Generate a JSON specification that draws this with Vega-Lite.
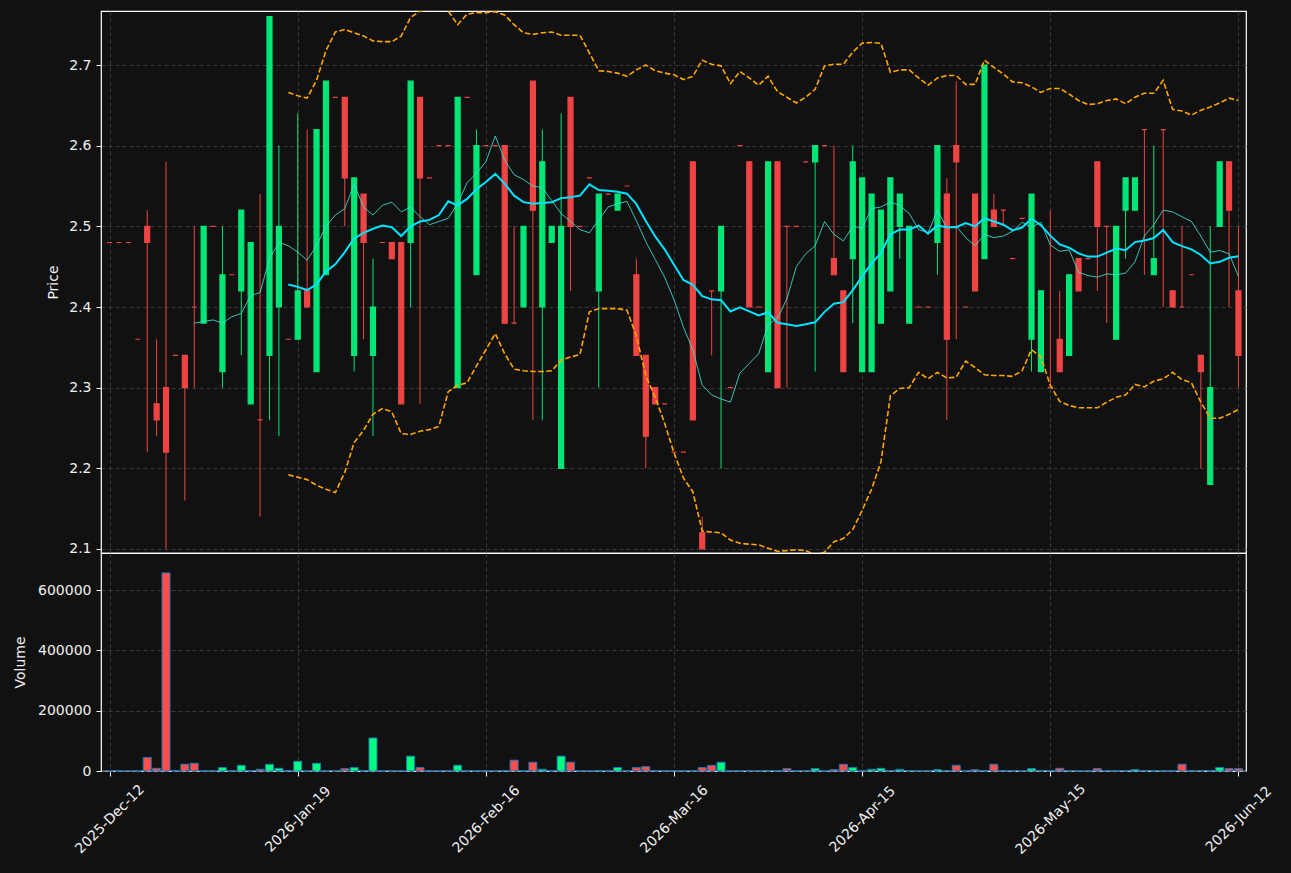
{
  "$schema": "https://vega.github.io/schema/vega-lite/v6.json",
  "background": "#111111",
  "padding": {"left": 12, "top": 10, "right": 17, "bottom": 21},
  "spacing": 0,
  "bounds": "flush",
  "config": {
    "font": "DejaVu Sans",
    "view": {"stroke": "#ffffff", "strokeWidth": 1.2, "fill": "#111111"},
    "axis": {
      "labelColor": "#f0f0f0", "titleColor": "#f0f0f0",
      "labelFont": "DejaVu Sans", "titleFont": "DejaVu Sans",
      "labelFontSize": 14, "titleFontSize": 14, "titleFontWeight": "normal",
      "tickColor": "#ffffff", "tickSize": 5, "labelPadding": 5, "domain": false,
      "gridColor": "#444444", "gridDash": [4, 3], "gridWidth": 0.8
    }
  },
  "datasets": {
    "k": [
      {"i":0,"o":2.48,"h":2.48,"l":2.48,"c":2.48,"v":0},
      {"i":1,"o":2.48,"h":2.48,"l":2.48,"c":2.48,"v":0},
      {"i":2,"o":2.48,"h":2.48,"l":2.48,"c":2.48,"v":0},
      {"i":3,"o":2.36,"h":2.36,"l":2.36,"c":2.36,"v":0},
      {"i":4,"o":2.5,"h":2.52,"l":2.22,"c":2.48,"v":44700},
      {"i":5,"o":2.28,"h":2.36,"l":2.24,"c":2.26,"v":8900},
      {"i":6,"o":2.3,"h":2.58,"l":2.1,"c":2.22,"v":657000},
      {"i":7,"o":2.34,"h":2.34,"l":2.34,"c":2.34,"v":0},
      {"i":8,"o":2.34,"h":2.34,"l":2.16,"c":2.3,"v":22300},
      {"i":9,"o":2.4,"h":2.5,"l":2.3,"c":2.4,"v":25700,"m10":2.380},
      {"i":10,"o":2.38,"h":2.5,"l":2.38,"c":2.5,"v":0,"m10":2.382},
      {"i":11,"o":2.5,"h":2.5,"l":2.5,"c":2.5,"v":0,"m10":2.384},
      {"i":12,"o":2.32,"h":2.5,"l":2.3,"c":2.44,"v":11200,"m10":2.380},
      {"i":13,"o":2.44,"h":2.44,"l":2.44,"c":2.44,"v":0,"m10":2.388},
      {"i":14,"o":2.42,"h":2.52,"l":2.34,"c":2.52,"v":19000,"m10":2.392},
      {"i":15,"o":2.28,"h":2.48,"l":2.28,"c":2.48,"v":1500,"m10":2.414},
      {"i":16,"o":2.26,"h":2.54,"l":2.14,"c":2.26,"v":5600,"m10":2.418},
      {"i":17,"o":2.34,"h":2.76,"l":2.26,"c":2.76,"v":22300,"m10":2.460},
      {"i":18,"o":2.4,"h":2.6,"l":2.24,"c":2.5,"v":8900,"m10":2.480},
      {"i":19,"o":2.36,"h":2.36,"l":2.36,"c":2.36,"v":1000,"m10":2.476,"m20":2.428,"up":2.666,"lo":2.192},
      {"i":20,"o":2.36,"h":2.64,"l":2.36,"c":2.42,"v":32400,"m10":2.468,"m20":2.425,"up":2.662,"lo":2.189},
      {"i":21,"o":2.42,"h":2.62,"l":2.4,"c":2.4,"v":0,"m10":2.458,"m20":2.421,"up":2.659,"lo":2.186},
      {"i":22,"o":2.32,"h":2.62,"l":2.32,"c":2.62,"v":25700,"m10":2.476,"m20":2.428,"up":2.681,"lo":2.179},
      {"i":23,"o":2.44,"h":2.68,"l":2.44,"c":2.68,"v":0,"m10":2.500,"m20":2.444,"up":2.718,"lo":2.174},
      {"i":24,"o":2.66,"h":2.66,"l":2.66,"c":2.66,"v":0,"m10":2.514,"m20":2.453,"up":2.741,"lo":2.170},
      {"i":25,"o":2.66,"h":2.66,"l":2.5,"c":2.56,"v":7800,"m10":2.522,"m20":2.468,"up":2.744,"lo":2.195},
      {"i":26,"o":2.34,"h":2.56,"l":2.32,"c":2.56,"v":11200,"m10":2.552,"m20":2.485,"up":2.740,"lo":2.232},
      {"i":27,"o":2.54,"h":2.54,"l":2.36,"c":2.48,"v":1500,"m10":2.524,"m20":2.492,"up":2.736,"lo":2.247},
      {"i":28,"o":2.34,"h":2.46,"l":2.24,"c":2.4,"v":109500,"m10":2.514,"m20":2.497,"up":2.730,"lo":2.267},
      {"i":29,"o":2.48,"h":2.48,"l":2.48,"c":2.48,"v":0,"m10":2.526,"m20":2.501,"up":2.729,"lo":2.274},
      {"i":30,"o":2.48,"h":2.48,"l":2.46,"c":2.46,"v":0,"m10":2.530,"m20":2.499,"up":2.729,"lo":2.270},
      {"i":31,"o":2.48,"h":2.48,"l":2.28,"c":2.28,"v":0,"m10":2.518,"m20":2.488,"up":2.736,"lo":2.243},
      {"i":32,"o":2.48,"h":2.68,"l":2.4,"c":2.68,"v":49200,"m10":2.524,"m20":2.500,"up":2.759,"lo":2.242},
      {"i":33,"o":2.66,"h":2.66,"l":2.28,"c":2.56,"v":11200,"m10":2.512,"m20":2.506,"up":2.767,"lo":2.246},
      {"i":34,"o":2.56,"h":2.56,"l":2.56,"c":2.56,"v":0,"m10":2.502,"m20":2.508,"up":2.768,"lo":2.248},
      {"i":35,"o":2.6,"h":2.6,"l":2.6,"c":2.6,"v":0,"m10":2.506,"m20":2.514,"up":2.772,"lo":2.252},
      {"i":36,"o":2.6,"h":2.6,"l":2.6,"c":2.6,"v":0,"m10":2.510,"m20":2.531,"up":2.767,"lo":2.295},
      {"i":37,"o":2.3,"h":2.66,"l":2.3,"c":2.66,"v":19000,"m10":2.528,"m20":2.526,"up":2.750,"lo":2.303},
      {"i":38,"o":2.66,"h":2.66,"l":2.66,"c":2.66,"v":0,"m10":2.554,"m20":2.534,"up":2.763,"lo":2.306},
      {"i":39,"o":2.44,"h":2.62,"l":2.44,"c":2.6,"v":0,"m10":2.566,"m20":2.546,"up":2.765,"lo":2.327},
      {"i":40,"o":2.6,"h":2.6,"l":2.6,"c":2.6,"v":0,"m10":2.580,"m20":2.555,"up":2.765,"lo":2.347},
      {"i":41,"o":2.6,"h":2.6,"l":2.6,"c":2.6,"v":0,"m10":2.612,"m20":2.565,"up":2.766,"lo":2.367},
      {"i":42,"o":2.6,"h":2.6,"l":2.38,"c":2.38,"v":1500,"m10":2.582,"m20":2.553,"up":2.762,"lo":2.342},
      {"i":43,"o":2.38,"h":2.5,"l":2.38,"c":2.38,"v":35800,"m10":2.564,"m20":2.538,"up":2.750,"lo":2.323},
      {"i":44,"o":2.4,"h":2.5,"l":2.4,"c":2.5,"v":0,"m10":2.558,"m20":2.530,"up":2.740,"lo":2.321},
      {"i":45,"o":2.68,"h":2.68,"l":2.26,"c":2.52,"v":29000,"m10":2.550,"m20":2.528,"up":2.738,"lo":2.320},
      {"i":46,"o":2.4,"h":2.62,"l":2.26,"c":2.58,"v":5600,"m10":2.548,"m20":2.529,"up":2.740,"lo":2.320},
      {"i":47,"o":2.48,"h":2.5,"l":2.48,"c":2.5,"v":1500,"m10":2.532,"m20":2.530,"up":2.741,"lo":2.321},
      {"i":48,"o":2.2,"h":2.64,"l":2.2,"c":2.5,"v":49200,"m10":2.516,"m20":2.535,"up":2.737,"lo":2.334},
      {"i":49,"o":2.66,"h":2.66,"l":2.42,"c":2.5,"v":29000,"m10":2.506,"m20":2.536,"up":2.737,"lo":2.338},
      {"i":50,"o":2.5,"h":2.5,"l":2.5,"c":2.5,"v":0,"m10":2.496,"m20":2.538,"up":2.737,"lo":2.341},
      {"i":51,"o":2.56,"h":2.56,"l":2.56,"c":2.56,"v":0,"m10":2.492,"m20":2.552,"up":2.715,"lo":2.394},
      {"i":52,"o":2.42,"h":2.54,"l":2.3,"c":2.54,"v":1000,"m10":2.508,"m20":2.545,"up":2.693,"lo":2.398},
      {"i":53,"o":2.54,"h":2.54,"l":2.54,"c":2.54,"v":0,"m10":2.524,"m20":2.544,"up":2.692,"lo":2.398},
      {"i":54,"o":2.52,"h":2.54,"l":2.52,"c":2.54,"v":11200,"m10":2.528,"m20":2.543,"up":2.690,"lo":2.398},
      {"i":55,"o":2.55,"h":2.55,"l":2.55,"c":2.55,"v":0,"m10":2.531,"m20":2.5405,"up":2.686,"lo":2.396},
      {"i":56,"o":2.44,"h":2.46,"l":2.34,"c":2.34,"v":11200,"m10":2.507,"m20":2.5275,"up":2.694,"lo":2.364},
      {"i":57,"o":2.34,"h":2.34,"l":2.2,"c":2.24,"v":14500,"m10":2.481,"m20":2.5065,"up":2.700,"lo":2.315},
      {"i":58,"o":2.3,"h":2.3,"l":2.28,"c":2.28,"v":1000,"m10":2.459,"m20":2.4875,"up":2.693,"lo":2.288},
      {"i":59,"o":2.28,"h":2.28,"l":2.28,"c":2.28,"v":0,"m10":2.437,"m20":2.4715,"up":2.690,"lo":2.256},
      {"i":60,"o":2.22,"h":2.22,"l":2.22,"c":2.22,"v":0,"m10":2.409,"m20":2.4525,"up":2.688,"lo":2.219},
      {"i":61,"o":2.22,"h":2.22,"l":2.22,"c":2.22,"v":0,"m10":2.375,"m20":2.4335,"up":2.682,"lo":2.188},
      {"i":62,"o":2.58,"h":2.58,"l":2.26,"c":2.26,"v":0,"m10":2.347,"m20":2.4275,"up":2.686,"lo":2.171},
      {"i":63,"o":2.12,"h":2.14,"l":2.1,"c":2.1,"v":11200,"m10":2.303,"m20":2.4135,"up":2.706,"lo":2.122},
      {"i":64,"o":2.42,"h":2.42,"l":2.34,"c":2.42,"v":19000,"m10":2.291,"m20":2.4095,"up":2.701,"lo":2.121},
      {"i":65,"o":2.42,"h":2.5,"l":2.2,"c":2.5,"v":29000,"m10":2.286,"m20":2.4085,"up":2.699,"lo":2.120},
      {"i":66,"o":2.3,"h":2.3,"l":2.3,"c":2.3,"v":0,"m10":2.282,"m20":2.3945,"up":2.677,"lo":2.111},
      {"i":67,"o":2.6,"h":2.6,"l":2.6,"c":2.6,"v":0,"m10":2.318,"m20":2.3995,"up":2.692,"lo":2.107},
      {"i":68,"o":2.58,"h":2.58,"l":2.4,"c":2.4,"v":0,"m10":2.330,"m20":2.3945,"up":2.684,"lo":2.106},
      {"i":69,"o":2.4,"h":2.4,"l":2.4,"c":2.4,"v":0,"m10":2.342,"m20":2.3895,"up":2.675,"lo":2.105},
      {"i":70,"o":2.32,"h":2.58,"l":2.32,"c":2.58,"v":1500,"m10":2.378,"m20":2.3935,"up":2.686,"lo":2.101},
      {"i":71,"o":2.58,"h":2.58,"l":2.3,"c":2.3,"v":0,"m10":2.386,"m20":2.3805,"up":2.667,"lo":2.097},
      {"i":72,"o":2.5,"h":2.5,"l":2.3,"c":2.5,"v":7800,"m10":2.410,"m20":2.3785,"up":2.660,"lo":2.098},
      {"i":73,"o":2.5,"h":2.5,"l":2.5,"c":2.5,"v":0,"m10":2.450,"m20":2.3765,"up":2.653,"lo":2.099},
      {"i":74,"o":2.58,"h":2.58,"l":2.58,"c":2.58,"v":0,"m10":2.466,"m20":2.3785,"up":2.660,"lo":2.098},
      {"i":75,"o":2.58,"h":2.6,"l":2.32,"c":2.6,"v":7800,"m10":2.476,"m20":2.381,"up":2.670,"lo":2.093},
      {"i":76,"o":2.6,"h":2.6,"l":2.6,"c":2.6,"v":0,"m10":2.506,"m20":2.394,"up":2.699,"lo":2.096},
      {"i":77,"o":2.46,"h":2.6,"l":2.44,"c":2.44,"v":4500,"m10":2.490,"m20":2.404,"up":2.701,"lo":2.109},
      {"i":78,"o":2.42,"h":2.42,"l":2.32,"c":2.32,"v":22300,"m10":2.482,"m20":2.406,"up":2.701,"lo":2.113},
      {"i":79,"o":2.46,"h":2.6,"l":2.38,"c":2.58,"v":11200,"m10":2.500,"m20":2.421,"up":2.716,"lo":2.124},
      {"i":80,"o":2.32,"h":2.56,"l":2.32,"c":2.56,"v":0,"m10":2.498,"m20":2.438,"up":2.727,"lo":2.148},
      {"i":81,"o":2.32,"h":2.54,"l":2.32,"c":2.54,"v":5600,"m10":2.522,"m20":2.454,"up":2.728,"lo":2.174},
      {"i":82,"o":2.38,"h":2.52,"l":2.38,"c":2.52,"v":8900,"m10":2.524,"m20":2.467,"up":2.727,"lo":2.208},
      {"i":83,"o":2.42,"h":2.56,"l":2.42,"c":2.56,"v":1000,"m10":2.530,"m20":2.490,"up":2.691,"lo":2.290},
      {"i":84,"o":2.5,"h":2.54,"l":2.46,"c":2.54,"v":5600,"m10":2.526,"m20":2.496,"up":2.694,"lo":2.299},
      {"i":85,"o":2.38,"h":2.5,"l":2.38,"c":2.5,"v":1000,"m10":2.516,"m20":2.496,"up":2.694,"lo":2.300},
      {"i":86,"o":2.4,"h":2.4,"l":2.4,"c":2.4,"v":0,"m10":2.496,"m20":2.501,"up":2.684,"lo":2.319},
      {"i":87,"o":2.4,"h":2.4,"l":2.4,"c":2.4,"v":0,"m10":2.492,"m20":2.491,"up":2.675,"lo":2.311},
      {"i":88,"o":2.48,"h":2.6,"l":2.44,"c":2.6,"v":4500,"m10":2.520,"m20":2.501,"up":2.684,"lo":2.319},
      {"i":89,"o":2.54,"h":2.56,"l":2.26,"c":2.36,"v":1000,"m10":2.498,"m20":2.499,"up":2.687,"lo":2.312},
      {"i":90,"o":2.6,"h":2.68,"l":2.36,"c":2.58,"v":19000,"m10":2.500,"m20":2.499,"up":2.687,"lo":2.313},
      {"i":91,"o":2.4,"h":2.4,"l":2.4,"c":2.4,"v":0,"m10":2.486,"m20":2.504,"up":2.676,"lo":2.333},
      {"i":92,"o":2.54,"h":2.54,"l":2.42,"c":2.42,"v":4500,"m10":2.476,"m20":2.500,"up":2.676,"lo":2.325},
      {"i":93,"o":2.46,"h":2.7,"l":2.46,"c":2.7,"v":1000,"m10":2.490,"m20":2.510,"up":2.706,"lo":2.316},
      {"i":94,"o":2.52,"h":2.54,"l":2.5,"c":2.5,"v":22300,"m10":2.486,"m20":2.506,"up":2.697,"lo":2.315},
      {"i":95,"o":2.52,"h":2.52,"l":2.5,"c":2.52,"v":1000,"m10":2.488,"m20":2.502,"up":2.689,"lo":2.315},
      {"i":96,"o":2.46,"h":2.46,"l":2.46,"c":2.46,"v":1000,"m10":2.494,"m20":2.495,"up":2.679,"lo":2.314},
      {"i":97,"o":2.51,"h":2.51,"l":2.51,"c":2.51,"v":0,"m10":2.505,"m20":2.4985,"up":2.678,"lo":2.321},
      {"i":98,"o":2.36,"h":2.54,"l":2.32,"c":2.54,"v":7800,"m10":2.499,"m20":2.5095,"up":2.673,"lo":2.347},
      {"i":99,"o":2.32,"h":2.42,"l":2.32,"c":2.42,"v":1000,"m10":2.505,"m20":2.5015,"up":2.666,"lo":2.338},
      {"i":100,"o":2.3,"h":2.52,"l":2.3,"c":2.3,"v":1500,"m10":2.477,"m20":2.4885,"up":2.671,"lo":2.303},
      {"i":101,"o":2.36,"h":2.42,"l":2.32,"c":2.32,"v":8900,"m10":2.469,"m20":2.4775,"up":2.671,"lo":2.283},
      {"i":102,"o":2.34,"h":2.44,"l":2.34,"c":2.44,"v":1000,"m10":2.471,"m20":2.4735,"up":2.664,"lo":2.278},
      {"i":103,"o":2.46,"h":2.46,"l":2.42,"c":2.42,"v":0,"m10":2.443,"m20":2.4665,"up":2.656,"lo":2.275},
      {"i":104,"o":2.46,"h":2.46,"l":2.46,"c":2.46,"v":0,"m10":2.439,"m20":2.4625,"up":2.651,"lo":2.275},
      {"i":105,"o":2.58,"h":2.58,"l":2.42,"c":2.5,"v":7800,"m10":2.437,"m20":2.4625,"up":2.652,"lo":2.275},
      {"i":106,"o":2.5,"h":2.5,"l":2.38,"c":2.5,"v":1000,"m10":2.441,"m20":2.4675,"up":2.656,"lo":2.282},
      {"i":107,"o":2.36,"h":2.5,"l":2.36,"c":2.5,"v":0,"m10":2.440,"m20":2.4725,"up":2.658,"lo":2.288},
      {"i":108,"o":2.52,"h":2.56,"l":2.46,"c":2.56,"v":1000,"m10":2.442,"m20":2.4705,"up":2.652,"lo":2.291},
      {"i":109,"o":2.52,"h":2.56,"l":2.52,"c":2.56,"v":4500,"m10":2.456,"m20":2.4805,"up":2.660,"lo":2.304},
      {"i":110,"o":2.62,"h":2.62,"l":2.44,"c":2.62,"v":1000,"m10":2.488,"m20":2.4825,"up":2.665,"lo":2.301},
      {"i":111,"o":2.44,"h":2.6,"l":2.44,"c":2.46,"v":1000,"m10":2.502,"m20":2.4855,"up":2.665,"lo":2.308},
      {"i":112,"o":2.62,"h":2.62,"l":2.4,"c":2.62,"v":0,"m10":2.520,"m20":2.4955,"up":2.681,"lo":2.311},
      {"i":113,"o":2.42,"h":2.42,"l":2.4,"c":2.4,"v":0,"m10":2.518,"m20":2.4805,"up":2.645,"lo":2.319},
      {"i":114,"o":2.4,"h":2.5,"l":2.4,"c":2.4,"v":22300,"m10":2.512,"m20":2.4755,"up":2.643,"lo":2.310},
      {"i":115,"o":2.44,"h":2.44,"l":2.44,"c":2.44,"v":0,"m10":2.506,"m20":2.4715,"up":2.638,"lo":2.306},
      {"i":116,"o":2.34,"h":2.34,"l":2.2,"c":2.32,"v":1000,"m10":2.488,"m20":2.4645,"up":2.644,"lo":2.282},
      {"i":117,"o":2.18,"h":2.5,"l":2.18,"c":2.3,"v":1000,"m10":2.468,"m20":2.454,"up":2.648,"lo":2.262},
      {"i":118,"o":2.5,"h":2.58,"l":2.5,"c":2.58,"v":11200,"m10":2.470,"m20":2.456,"up":2.653,"lo":2.262},
      {"i":119,"o":2.58,"h":2.58,"l":2.4,"c":2.52,"v":7800,"m10":2.466,"m20":2.461,"up":2.659,"lo":2.267},
      {"i":120,"o":2.42,"h":2.5,"l":2.3,"c":2.34,"v":7800,"m10":2.438,"m20":2.463,"up":2.656,"lo":2.273}
    ]
  },
  "vconcat": [
    {
      "width": 1145,
      "height": 542,
      "data": {"name": "k"},
      "encoding": {
        "x": {
          "field": "i", "type": "quantitative",
          "scale": {"domain": [-0.38, 120.27], "nice": false, "zero": false},
          "axis": {"values": [0, 20, 40, 60, 80, 100, 120], "labels": false, "ticks": false, "title": null, "grid": true}
        }
      },
      "layer": [
        {
          "mark": {"type": "rule", "strokeWidth": 1, "clip": true},
          "encoding": {
            "y": {
              "field": "l", "type": "quantitative", "title": "Price",
              "scale": {"domain": [2.095, 2.767], "nice": false, "zero": false},
              "axis": {"values": [2.1, 2.2, 2.3, 2.4, 2.5, 2.6, 2.7], "format": ".1f", "grid": true, "titlePadding": 8}
            },
            "y2": {"field": "h"},
            "color": {"condition": {"test": "datum.c > datum.o", "value": "#00e676"}, "value": "#ef4444"}
          }
        },
        {
          "mark": {"type": "bar", "size": 5, "strokeWidth": 1.2, "clip": true},
          "encoding": {
            "y": {"field": "o", "type": "quantitative", "title": "Price"},
            "y2": {"field": "c"},
            "fill": {"condition": {"test": "datum.c > datum.o", "value": "#00e676"}, "value": "#ef4444"},
            "stroke": {"condition": {"test": "datum.c > datum.o", "value": "#00e676"}, "value": "#ef4444"}
          }
        },
        {
          "mark": {"type": "line", "color": "#40e0d0", "strokeWidth": 1, "opacity": 0.85, "clip": true},
          "encoding": {"y": {"field": "m10", "type": "quantitative", "title": "Price"}}
        },
        {
          "mark": {"type": "line", "color": "#00e5ff", "strokeWidth": 2, "clip": true},
          "encoding": {"y": {"field": "m20", "type": "quantitative", "title": "Price"}}
        },
        {
          "mark": {"type": "line", "color": "#ffa500", "strokeWidth": 1.6, "strokeDash": [5.5, 2.5], "clip": true},
          "encoding": {"y": {"field": "up", "type": "quantitative", "title": "Price"}}
        },
        {
          "mark": {"type": "line", "color": "#ffa500", "strokeWidth": 1.6, "strokeDash": [5.5, 2.5], "clip": true},
          "encoding": {"y": {"field": "lo", "type": "quantitative", "title": "Price"}}
        }
      ]
    },
    {
      "width": 1145,
      "height": 218,
      "data": {"name": "k"},
      "mark": {"type": "bar", "size": 8, "stroke": "#1f77b4", "strokeWidth": 1},
      "encoding": {
        "x": {
          "field": "i", "type": "quantitative",
          "scale": {"domain": [-0.38, 120.27], "nice": false, "zero": false},
          "axis": {
            "values": [0, 20, 40, 60, 80, 100, 120], "title": null, "grid": true,
            "labelAngle": -45, "labelAlign": "center", "labelBaseline": "middle", "labelPadding": 43,
            "labelExpr": "datum.value == 0 ? '2025-Dec-12' : datum.value == 20 ? '2026-Jan-19' : datum.value == 40 ? '2026-Feb-16' : datum.value == 60 ? '2026-Mar-16' : datum.value == 80 ? '2026-Apr-15' : datum.value == 100 ? '2026-May-15' : '2026-Jun-12'"
          }
        },
        "y": {
          "field": "v", "type": "quantitative", "title": "Volume",
          "scale": {"domain": [0, 723000], "nice": false},
          "axis": {"values": [0, 200000, 400000, 600000], "format": "d", "grid": true, "titlePadding": 10}
        },
        "fill": {"condition": {"test": "datum.c > datum.o", "value": "#00ff7f"}, "value": "#ff4d4d"}
      }
    }
  ]
}
